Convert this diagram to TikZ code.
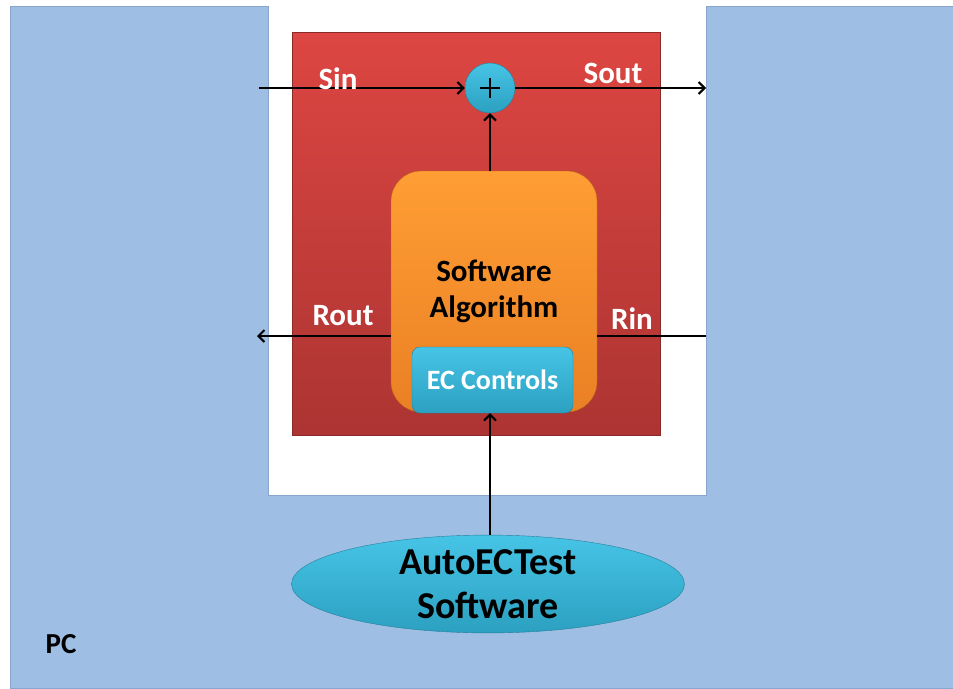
\documentclass[tikz,border=0pt]{standalone}
\usepackage{fontspec}
\setmainfont{Carlito}
\usepackage{tikz}
\usetikzlibrary{positioning, arrows.meta, shapes.geometric}
\usepackage{xcolor}
\definecolor{pcblue}{RGB}{159,190,228}
\definecolor{pcedge}{RGB}{135,165,205}
\definecolor{redtop}{RGB}{221,70,66}
\definecolor{redbot}{RGB}{172,52,50}
\definecolor{orgtop}{RGB}{255,158,52}
\definecolor{orgbot}{RGB}{234,128,36}
\definecolor{cyantop}{RGB}{70,196,230}
\definecolor{cyanbot}{RGB}{44,160,192}

\begin{document}
\begin{tikzpicture}[x=1pt, y=-1pt,
    redbox/.style={draw=redbot!80!black, line width=0.4pt, top color=redtop, bottom color=redbot, inner sep=0pt},
    algbox/.style={draw=orgbot!80!black, line width=0.4pt, top color=orgtop, bottom color=orgbot, rounded corners=30pt, inner sep=0pt, align=center, font=\fontsize{31}{36}\selectfont\bfseries},
    ecbox/.style={draw=cyanbot!80!black, line width=0.4pt, top color=cyantop, bottom color=cyanbot, rounded corners=8pt, inner sep=0pt, text=white, font=\fontsize{28}{30}\selectfont\bfseries},
    sumnode/.style={circle, draw=cyanbot!80!black, line width=0.4pt, top color=cyantop, bottom color=cyanbot, minimum size=50pt, inner sep=0pt},
    swnode/.style={ellipse, draw=cyanbot!80!black, line width=0.4pt, top color=cyantop, bottom color=cyanbot, inner sep=0pt, align=center, font=\fontsize{38}{44}\selectfont\bfseries},
    lbl/.style={text=white, font=\fontsize{31}{31}\selectfont\bfseries},
    sig/.style={-{Straight Barb[length=6pt,width=12pt]}, line width=2pt}]
    \useasboundingbox (0,0) rectangle (953,688);

    % PC
    \fill[pcblue, draw=pcedge, line width=0.8pt] (10,6) -- (268,6) -- (268,495) -- (706,495)
        -- (706,6) -- (953,6) -- (953,688) -- (10,688) -- cycle;
    \node[font=\fontsize{29}{29}\selectfont\bfseries] (pc) at (61,644) {PC};

    % Processing box
    \node[redbox, minimum width=368pt, minimum height=403pt] (dsp) at (476,233.5) {};
    \node[algbox, minimum width=206pt, minimum height=241pt] (alg) at (494,291.5) {Software\\Algorithm};
    \node[ecbox, minimum width=161pt, minimum height=66pt] (ec) at (492.5,380) {EC Controls};
    \node[sumnode] (sum) at (490,88) {};
    \draw[line width=2pt] (sum.center) ++(-10,0) -- ++(20,0) (sum.center) ++(0,-10) -- ++(0,20);

    % Test software
    \node[swnode, minimum width=393pt, minimum height=96pt] (auto) at (488,584) {AutoECTest\\Software};

    % Signals
    \coordinate (sinL) at (259,88);
    \coordinate (soutR) at (706,88);
    \coordinate (routL) at (257,336);
    \coordinate (rinR) at (706,336);
    \draw[sig] (sinL) -- (sum);
    \draw[sig] (sum) -- (soutR);
    \draw[sig] (alg.north -| sum) -- (sum);
    \draw[sig] (routL -| alg.west) -- (routL);
    \draw[line width=2pt] (rinR) -- (rinR -| alg.east);
    \draw[sig] (auto.north -| sum) -- (ec.south -| sum);

    \node[lbl] (sinlbl) at (338,79) {Sin};
    \node[lbl] (soutlbl) at (613,73) {Sout};
    \node[lbl] (routlbl) at (343,316) {Rout};
    \node[lbl] (rinlbl) at (632,319) {Rin};
\end{tikzpicture}
\end{document}
